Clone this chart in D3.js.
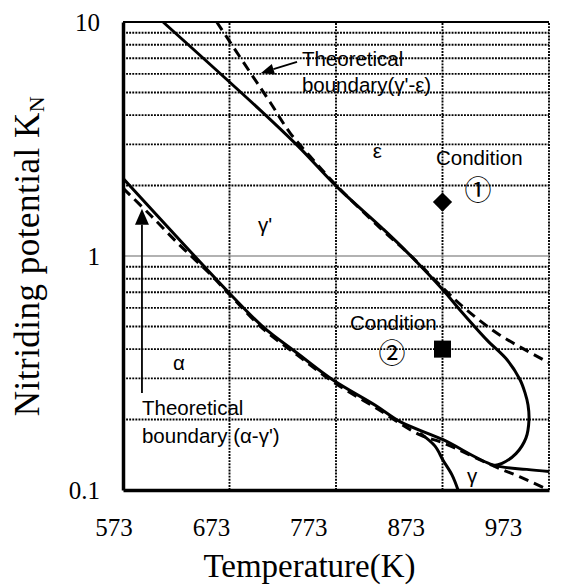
<!DOCTYPE html>
<html>
<head>
<meta charset="utf-8">
<script src="https://cdn.jsdelivr.net/npm/d3@7"></script>
<style>
  body { margin: 0; background: #fff; }
  svg { display: block; }
</style>
</head>
<body>
<div id="vis"></div>
<script>
// axes
const tempTicks = [573, 673, 773, 873, 973];
const kTicks = [0.1, 1, 10];
const kMinor = [0.2, 0.3, 0.4, 0.5, 0.6, 0.7, 0.8, 0.9, 2, 3, 4, 5, 6, 7, 8, 9];

// experimental boundaries (T in K, KN)
const gpEps = [[610.6, 10], [701.6, 4.21], [739.2, 2.89], [773.7, 1.98], [816, 1.32], [837.8, 1.06],
  [873.5, 0.716], [889.4, 0.588], [914.8, 0.437], [933.6, 0.36], [945.8, 0.296], [950.5, 0.26],
  [953.3, 0.231], [954.2, 0.199], [951.4, 0.167], [942, 0.143], [928.9, 0.130], [920.4, 0.127]];
const alphaGp = [[573, 2.15], [676.3, 0.668], [704.5, 0.498], [736.4, 0.385], [770.2, 0.295],
  [810.6, 0.229], [833.1, 0.196], [873.5, 0.164], [920.4, 0.128], [952, 0.1225], [973, 0.12]];
const alphaGamma = [[851.9, 0.175], [866, 0.154], [873.5, 0.134], [881.9, 0.116], [887.6, 0.1]];

// theoretical boundaries
const theoGpEps = [[661, 10], [692.2, 6.11], [711, 4.55], [729.8, 3.36], [748.6, 2.67], [773, 2.01],
  [814.3, 1.32], [842.5, 1.01], [873.5, 0.73], [895.7, 0.588], [927, 0.459], [973, 0.35]];
const theoAlphaGp = [[573, 1.95], [598.4, 1.50], [626.5, 1.11], [654.7, 0.838], [676.3, 0.66],
  [704.5, 0.488], [736.4, 0.378], [770.2, 0.29], [810.6, 0.224], [851.9, 0.172], [873.5, 0.159],
  [920.4, 0.127], [945.8, 0.1137], [973, 0.1]];

// nitriding conditions
const condDiamond = [873, 1.7];
const condSquare = [873, 0.4];

const width = 569, height = 585;
const margin = {left: 123, right: 20, top: 22, bottom: 95};

const svg = d3.select("#vis").append("svg")
  .attr("width", width).attr("height", height);

const x = d3.scaleLinear().domain([573, 973]).range([margin.left, width - margin.right]);
const y = d3.scaleLog().domain([0.1, 10]).range([height - margin.bottom, margin.top]);
// tick labels sit a little to the left of the grid lines in the original
const xLab = d3.scaleLinear().domain([573, 973]).range([113.5, 503]);

const serif = "'Liberation Serif', 'Times New Roman', serif";
const sans = "'Liberation Sans', Arial, sans-serif";

// grid
const grid = svg.append("g");
grid.selectAll(".hminor").data(kMinor).join("line")
  .attr("x1", x(573)).attr("x2", x(973))
  .attr("y1", d => y(d)).attr("y2", d => y(d))
  .attr("stroke", "#000").attr("stroke-width", 1.9)
  .attr("stroke-dasharray", "1.9,1.2");
grid.selectAll(".vgrid").data(tempTicks.slice(1)).join("line")
  .attr("x1", d => x(d)).attr("x2", d => x(d))
  .attr("y1", y(0.1)).attr("y2", y(10))
  .attr("stroke", "#000").attr("stroke-width", 1.9)
  .attr("stroke-dasharray", "1.9,1.2");
grid.append("line")
  .attr("x1", x(573)).attr("x2", x(973))
  .attr("y1", y(1)).attr("y2", y(1))
  .attr("stroke", "#999").attr("stroke-width", 1.6);
grid.append("line")
  .attr("x1", x(573)).attr("x2", x(973))
  .attr("y1", y(10)).attr("y2", y(10))
  .attr("stroke", "#000").attr("stroke-width", 1.8);

// curves
const line = d3.line()
  .x(d => x(d[0])).y(d => y(d[1]))
  .curve(d3.curveCatmullRom.alpha(0.5));

const curves = svg.append("g").attr("fill", "none").attr("stroke", "#000");
[theoGpEps, theoAlphaGp].forEach(c => {
  curves.append("path").attr("d", line(c))
    .attr("stroke-width", 3).attr("stroke-dasharray", "10,6");
});
[gpEps, alphaGp, alphaGamma].forEach(c => {
  curves.append("path").attr("d", line(c))
    .attr("stroke-width", 3);
});

// axes
const yAxis = svg.append("g")
  .attr("transform", `translate(${margin.left},0)`)
  .call(d3.axisLeft(y).tickValues(kTicks).tickFormat(d => d).tickSize(0).tickSizeOuter(0).tickPadding(23));
yAxis.select(".domain").attr("stroke-width", 3.5);
yAxis.selectAll("text").attr("font-family", serif).attr("font-size", 25).attr("fill", "#000");

const xAxis = svg.append("g")
  .attr("transform", `translate(0,${height - margin.bottom})`)
  .call(d3.axisBottom(x).tickValues([]).tickSizeOuter(0));
xAxis.select(".domain").attr("stroke-width", 3.5);

const xLabels = svg.append("g")
  .attr("transform", `translate(0,${height - margin.bottom})`)
  .call(d3.axisBottom(xLab).tickValues(tempTicks).tickFormat(d => d).tickSize(0).tickPadding(28));
xLabels.select(".domain").remove();
xLabels.selectAll("text").attr("font-family", serif).attr("font-size", 25).attr("fill", "#000");

// axis titles
svg.append("text")
  .attr("x", 309.5).attr("y", 577)
  .attr("text-anchor", "middle")
  .attr("font-family", serif).attr("font-size", 33)
  .text("Temperature(K)");

const yTitle = svg.append("text")
  .attr("transform", "translate(38.5,256) rotate(-90)")
  .attr("text-anchor", "middle")
  .attr("font-family", serif).attr("font-size", 35)
  .attr("letter-spacing", 0.5);
yTitle.append("tspan").text("Nitriding potential K");
yTitle.append("tspan").attr("dy", 5).attr("font-size", 22).text("N");

// condition markers
svg.append("path")
  .attr("d", d3.symbol(d3.symbolSquare, 185)())
  .attr("transform", `translate(${x(condDiamond[0])},${y(condDiamond[1])}) rotate(45)`)
  .attr("fill", "#000");
svg.append("path")
  .attr("d", d3.symbol(d3.symbolSquare, 290)())
  .attr("transform", `translate(${x(condSquare[0])},${y(condSquare[1])})`)
  .attr("fill", "#000");

// labels
const labels = [
  {t: "Theoretical", T: 741, K: 6.49, a: "start"},
  {t: "boundary(γ'-ε)", T: 741, K: 5.02, a: "start"},
  {t: "ε", T: 811.7, K: 2.62, a: "middle"},
  {t: "Condition", T: 866.9, K: 2.45, a: "start"},
  {t: "γ'", T: 706.3, K: 1.27, a: "middle"},
  {t: "α", T: 625.6, K: 0.326, a: "middle"},
  {t: "Theoretical", T: 590.8, K: 0.2095, a: "start"},
  {t: "boundary (α-γ')", T: 590.8, K: 0.159, a: "start"},
  {t: "Condition", T: 786.1, K: 0.483, a: "start"},
  {t: "γ", T: 900.7, K: 0.107, a: "middle"}
];
svg.append("g").selectAll("text").data(labels).join("text")
  .attr("x", d => x(d.T)).attr("y", d => y(d.K))
  .attr("text-anchor", d => d.a)
  .attr("font-family", sans).attr("font-size", 20.5)
  .text(d => d.t);

const circled = [
  {t: "①", T: 906.3, K: 1.95},
  {t: "②", T: 825.6, K: 0.389}
];
svg.append("g").selectAll("text").data(circled).join("text")
  .attr("x", d => x(d.T)).attr("y", d => y(d.K))
  .attr("text-anchor", "middle").attr("dominant-baseline", "central")
  .attr("font-family", "'Noto Sans CJK JP', 'DejaVu Sans', sans-serif")
  .attr("font-size", 27)
  .text(d => d.t);

// arrows pointing at the theoretical lines
const arrows = [
  {from: [736.4, 6.75], to: [702.6, 6.05], len: 13, half: 5.5},
  {from: [590.8, 0.26], to: [590.8, 1.59], len: 16, half: 7}
];
arrows.forEach(a => {
  const x0 = x(a.from[0]), y0 = y(a.from[1]), x1 = x(a.to[0]), y1 = y(a.to[1]);
  const ang = Math.atan2(y1 - y0, x1 - x0);
  const bx = x1 - a.len * Math.cos(ang), by = y1 - a.len * Math.sin(ang);
  const px = -Math.sin(ang) * a.half, py = Math.cos(ang) * a.half;
  svg.append("line")
    .attr("x1", x0).attr("y1", y0).attr("x2", bx).attr("y2", by)
    .attr("stroke", "#000").attr("stroke-width", 1.8);
  svg.append("path")
    .attr("d", `M${x1},${y1}L${bx + px},${by + py}L${bx - px},${by - py}Z`)
    .attr("fill", "#000");
});
</script>
</body>
</html>
